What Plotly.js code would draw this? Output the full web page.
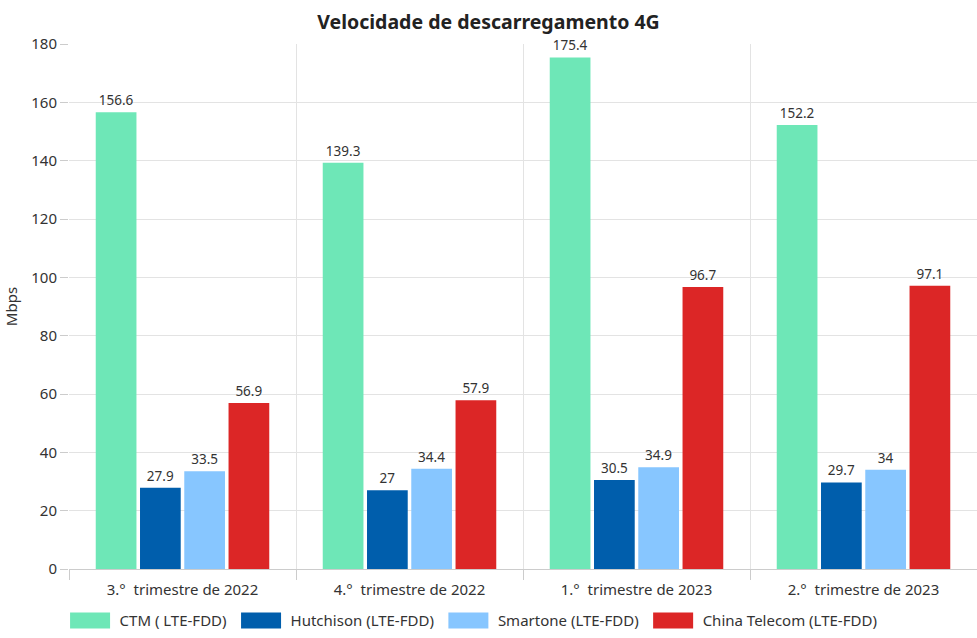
<!DOCTYPE html>
<html>
<head>
<meta charset="utf-8">
<script src="https://cdn.plot.ly/plotly-3.0.1.min.js"></script>
<style>html,body{margin:0;padding:0;background:#fff;}#chart{width:977px;height:638px;}</style>
</head>
<body>
<div id="chart"></div>
<script>
const categories = ["3.°  trimestre de 2022", "4.°  trimestre de 2022", "1.°  trimestre de 2023", "2.°  trimestre de 2023"];
const seriesNames = ["CTM ( LTE-FDD)", "Hutchison (LTE-FDD)", "Smartone (LTE-FDD)", "China Telecom (LTE-FDD)"];
const ctm = [156.6, 139.3, 175.4, 152.2];
const hutchison = [27.9, 27, 30.5, 29.7];
const smartone = [33.5, 34.4, 34.9, 34];
const chinaTelecom = [56.9, 57.9, 96.7, 97.1];
const colors = ["#6ee7b7", "#005eac", "#87c6ff", "#dc2626"];

const values = [ctm, hutchison, smartone, chinaTelecom];
const font = "Noto Sans, Open Sans, sans-serif";
const traces = values.map((v, i) => ({
  type: "bar",
  name: seriesNames[i],
  x: categories,
  y: v,
  marker: {color: colors[i]},
  text: v.map(String),
  textposition: "outside",
  cliponaxis: false,
  textfont: {family: font, size: 13.5, color: "#333"},
  hoverinfo: "x+y+name"
}));

const layout = {
  width: 977, height: 638,
  margin: {l: 69, r: 0, t: 44, b: 69},
  paper_bgcolor: "#fff", plot_bgcolor: "#fff",
  font: {family: font, color: "#333"},
  title: {text: "<b>Velocidade de descarregamento 4G</b>", x: 0.5, xanchor: "center", y: 0.965, yanchor: "middle", font: {family: font, size: 19.5, color: "#222"}},
  barmode: "group",
  bargap: 0.22,
  bargroupgap: 0.08,
  xaxis: {
    type: "category",
    tickson: "boundaries",
    ticks: "outside", ticklen: 10, tickcolor: "#ccc",
    showgrid: true, gridcolor: "#e3e3e3",
    showline: true, linecolor: "#ccc",
    tickfont: {family: font, size: 15, color: "#333"},
    ticklabelstandoff: 7,
    fixedrange: true
  },
  yaxis: {
    range: [0, 180], dtick: 20,
    ticks: "outside", ticklen: 8, tickcolor: "#ccc",
    showgrid: true, gridcolor: "#e3e3e3",
    zeroline: false, showline: false,
    tickfont: {family: font, size: 15, color: "#333"},
    title: {text: "Mbps", font: {family: font, size: 15, color: "#333"}, standoff: 10},
    fixedrange: true
  },
  legend: {
    orientation: "h", xref: "container", yref: "container",
    x: 0.062, xanchor: "left", y: 0.053, yanchor: "top",
    font: {family: font, size: 15, color: "#333"},
    itemwidth: 49, tracegroupgap: 0
  },
  showlegend: true
};

Plotly.newPlot("chart", traces, layout, {displayModeBar: false, staticPlot: true}).then(() => {
  document.querySelectorAll("#chart .legend .legendpoints path").forEach(p => {
    p.setAttribute("d", "M20,8H-20V-8H20Z");
    p.style.strokeWidth = "0";
  });
});
</script>
</body>
</html>
